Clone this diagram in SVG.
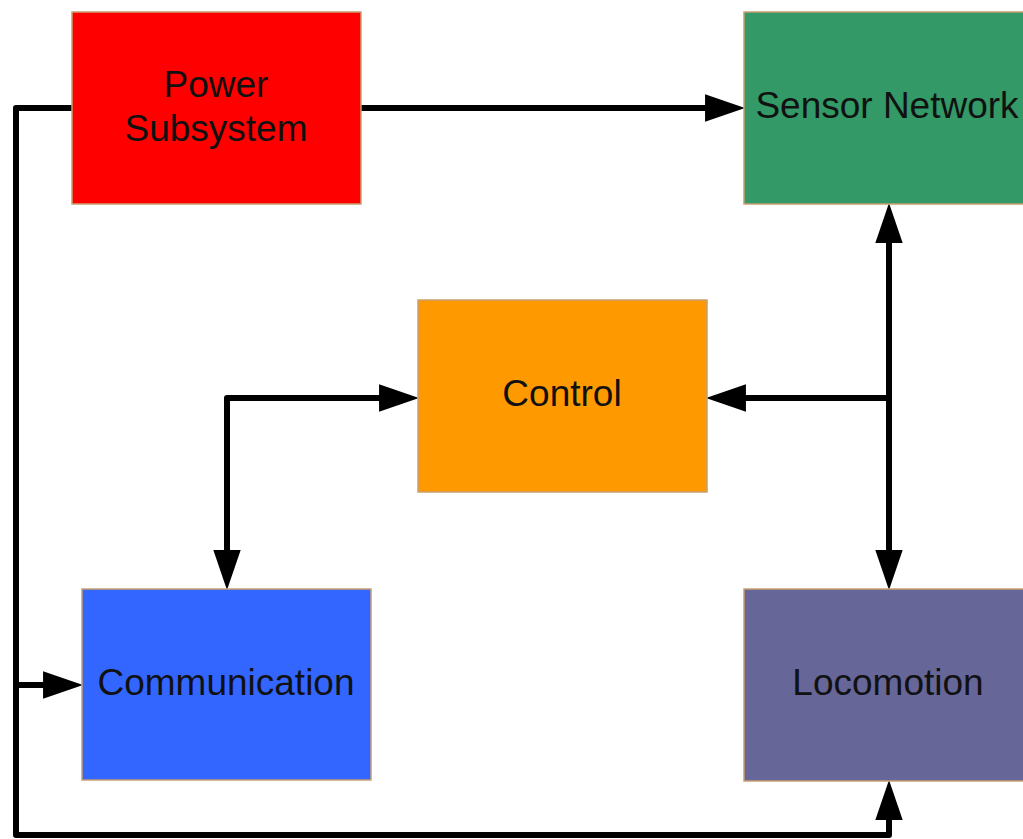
<svg xmlns="http://www.w3.org/2000/svg" width="1023" height="839" viewBox="0 0 1023 839">
<style>
.box{stroke:#c8a070;stroke-width:1.5}
.lbl{font-family:"Liberation Sans",Arial,sans-serif;font-size:37px;fill:#111;text-anchor:middle}
.wire{fill:none;stroke:#000;stroke-width:6;stroke-linejoin:round}
</style>
<defs>
<marker id="ah" markerUnits="userSpaceOnUse" markerWidth="40" markerHeight="28" viewBox="0 0 38 26" refX="18" refY="13" orient="auto-start-reverse">
<path d="M0,0 L38,13 L0,26 z" fill="#000"/>
</marker>
</defs>
<rect width="1023" height="839" fill="#fff"/>
<g id="connectors">
<path class="wire" d="M73,108 H16 V835 H889 V801" marker-end="url(#ah)"/>
<path class="wire" d="M16,685 H62" marker-end="url(#ah)"/>
<path class="wire" d="M361,108 H724" marker-end="url(#ah)"/>
<path class="wire" d="M889,224 V569" marker-start="url(#ah)" marker-end="url(#ah)"/>
<path class="wire" d="M889,398 H727" marker-end="url(#ah)"/>
<path class="wire" d="M398,398 H227 V569" marker-start="url(#ah)" marker-end="url(#ah)"/>
</g>
<g id="power">
<rect class="box" x="72" y="12" width="289" height="192" fill="#ff0000"/>
<text class="lbl" x="216" y="97">Power</text>
<text class="lbl" x="216" y="141">Subsystem</text>
</g>
<g id="sensor">
<rect class="box" x="744" y="12" width="289" height="192" fill="#339966"/>
<text class="lbl" x="887" y="118">Sensor Network</text>
</g>
<g id="control">
<rect class="box" x="418" y="300" width="289" height="192" fill="#ff9900"/>
<text class="lbl" x="562" y="406">Control</text>
</g>
<g id="communication">
<rect class="box" x="82" y="589" width="289" height="191" fill="#3366ff"/>
<text class="lbl" x="226" y="695">Communication</text>
</g>
<g id="locomotion">
<rect class="box" x="744" y="589" width="289" height="192" fill="#666699"/>
<text class="lbl" x="888" y="695">Locomotion</text>
</g>
</svg>
